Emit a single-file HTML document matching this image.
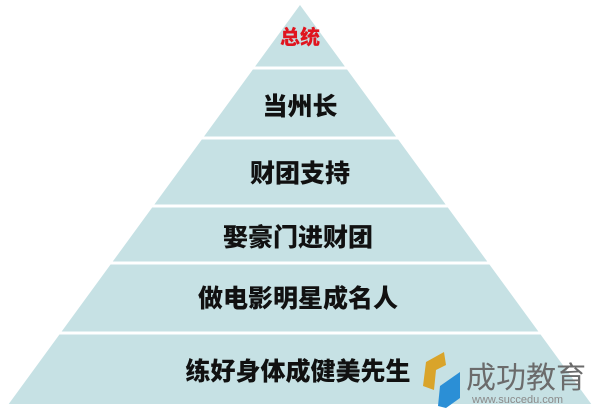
<!DOCTYPE html>
<html><head><meta charset="utf-8"><style>
html,body{margin:0;padding:0;background:#fff;width:600px;height:412px;overflow:hidden}
svg text{font-family:"Liberation Sans","Noto Sans CJK SC",sans-serif;font-weight:900}
</style></head><body>
<svg width="600" height="412" viewBox="0 0 600 412">
<polygon points="300,5 592,405 8,405" fill="#c6e1e4"/>
<rect x="0" y="404" width="600" height="8" fill="#fff"/>
<g stroke="#fff" stroke-width="3">
<line x1="0" y1="68" x2="600" y2="68"/>
<line x1="0" y1="138" x2="600" y2="138"/>
<line x1="0" y1="206" x2="600" y2="206"/>
<line x1="0" y1="263" x2="600" y2="263"/>
<line x1="0" y1="333" x2="600" y2="333"/>
</g>
<g text-anchor="middle" fill="#111">
<text x="300" y="44" font-size="20" fill="#e0141e">总统</text>
<text x="300" y="115" font-size="25">当州长</text>
<text x="300" y="182" font-size="25">财团支持</text>
<text x="298" y="246" font-size="25">娶豪门进财团</text>
<text x="298" y="307" font-size="25">做电影明星成名人</text>
<text x="298" y="380" font-size="25">练好身体成健美先生</text>
</g>
<g>
<path d="M444,352 L426,362 L423,386 L434,390 L436,370 L446,365 Z" fill="#d9a42a"/>
<path d="M460,372 L440,386 L438,406 L446,408 L460,398 Z" fill="#2b8fd6"/>
<text x="466" y="388" font-size="30" fill="#6b6b6b" style="font-weight:normal">成功教育</text>
<text x="472" y="403" font-size="11" fill="#8a8a8a" style="font-weight:normal">www.succedu.com</text>
</g>
</svg>
</body></html>
